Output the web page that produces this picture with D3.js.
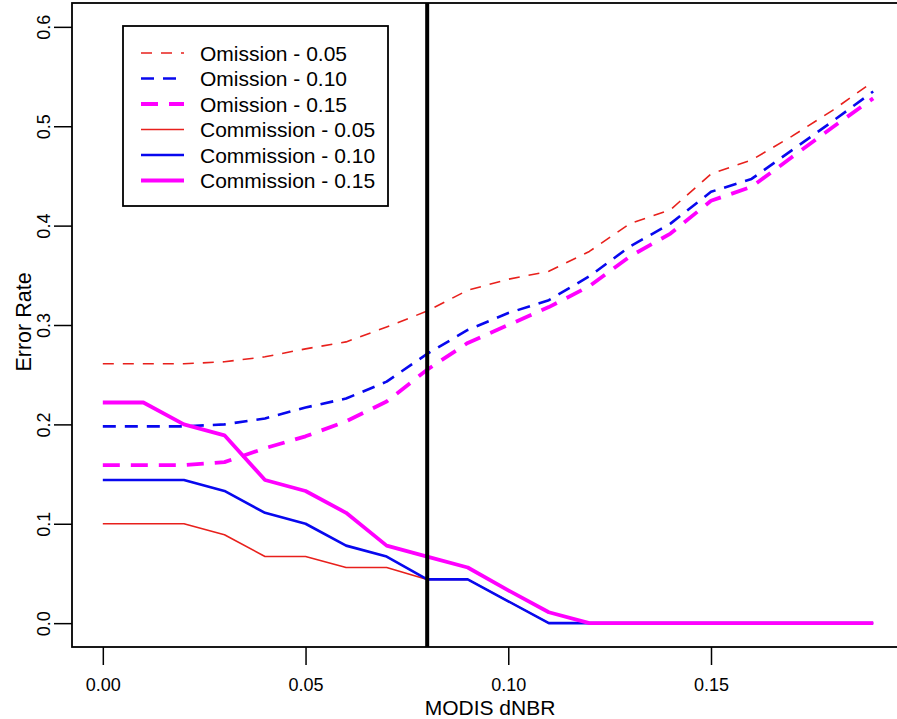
<!DOCTYPE html>
<meta charset="utf-8">
<title>Error rate vs MODIS dNBR</title>
<style>
  body { margin: 0; background: #fff; }
  text { font-family: "Liberation Sans", Arial, Helvetica, sans-serif; fill: #000; }
  .axis line { stroke: #000; stroke-width: 1.5px; }
  .axis path { display: none; }
</style>
<body>
<script src="https://cdn.jsdelivr.net/npm/d3@7"></script>
<script>

var width = 897,
    height = 719;

// thresholds on the x axis
var dnbr = [0.00, 0.01, 0.02, 0.03, 0.04, 0.05, 0.06, 0.07, 0.08, 0.09,
            0.10, 0.11, 0.12, 0.13, 0.14, 0.15, 0.16, 0.17, 0.18, 0.19];

var omission05 = [0.261, 0.261, 0.261, 0.263, 0.268, 0.276, 0.283, 0.298, 0.314, 0.335,
                  0.346, 0.354, 0.374, 0.402, 0.416, 0.452, 0.466, 0.490, 0.516, 0.545];
var omission10 = [0.198, 0.198, 0.198, 0.200, 0.206, 0.217, 0.226, 0.243, 0.271, 0.295,
                  0.312, 0.325, 0.349, 0.379, 0.402, 0.434, 0.447, 0.476, 0.505, 0.535];
var omission15 = [0.159, 0.159, 0.159, 0.162, 0.176, 0.188, 0.203, 0.223, 0.255, 0.282,
                  0.300, 0.318, 0.339, 0.369, 0.392, 0.425, 0.439, 0.469, 0.499, 0.528];
var commission05 = [0.100, 0.100, 0.100, 0.089, 0.067, 0.067, 0.056, 0.056, 0.044, 0.044,
                    0.022, 0, 0, 0, 0, 0, 0, 0, 0, 0];
var commission10 = [0.144, 0.144, 0.144, 0.133, 0.111, 0.100, 0.078, 0.067, 0.044, 0.044,
                    0.022, 0, 0, 0, 0, 0, 0, 0, 0, 0];
var commission15 = [0.222, 0.222, 0.200, 0.189, 0.144, 0.133, 0.111, 0.078, 0.067, 0.056,
                    0.033, 0.011, 0, 0, 0, 0, 0, 0, 0, 0];

var xTicks = [0, 0.05, 0.10, 0.15];
var yTicks = [0, 0.1, 0.2, 0.3, 0.4, 0.5, 0.6];
var cutoff = 0.08;

var series = [
  {name: "Omission - 0.05",   values: omission05,   color: "#e8201c", w: 1.6, dash: "11,9"},
  {name: "Omission - 0.10",   values: omission10,   color: "#0808ee", w: 2.6, dash: "13,9"},
  {name: "Omission - 0.15",   values: omission15,   color: "#ff00ff", w: 3.8, dash: "17,11"},
  {name: "Commission - 0.05", values: commission05, color: "#e8201c", w: 1.6, dash: null},
  {name: "Commission - 0.10", values: commission10, color: "#0808ee", w: 2.6, dash: null},
  {name: "Commission - 0.15", values: commission15, color: "#ff00ff", w: 3.8, dash: null}
];

// R style: limits padded by 4%
var x = d3.scaleLinear().domain([-0.0076, 0.1976]).range([72, 904]);
var y = d3.scaleLinear().domain([-0.024, 0.624]).range([647, 3]);

var svg = d3.select("body").append("svg")
    .attr("width", width)
    .attr("height", height);

var line = d3.line()
    .x(function(d, i) { return x(dnbr[i]); })
    .y(function(d) { return y(d); });

series.forEach(function(s) {
  svg.append("path")
    .datum(s.values)
    .attr("d", line)
    .attr("fill", "none")
    .attr("stroke", s.color)
    .attr("stroke-width", s.w)
    .attr("stroke-dasharray", s.dash)
    .attr("stroke-linejoin", "round");
});

// cutoff line
svg.append("line")
  .attr("x1", x(cutoff)).attr("x2", x(cutoff))
  .attr("y1", y.range()[0]).attr("y2", y.range()[1])
  .attr("stroke", "#000")
  .attr("stroke-width", 4);

// plot box
svg.append("rect")
  .attr("x", 72).attr("y", 3)
  .attr("width", 832).attr("height", 644)
  .attr("fill", "none")
  .attr("stroke", "#000")
  .attr("stroke-width", 1.8);

// axes
var xAxis = svg.append("g")
  .attr("class", "axis")
  .attr("transform", "translate(0,647)")
  .call(d3.axisBottom(x).tickValues(xTicks).tickSize(18).tickFormat(d3.format(".2f")));
xAxis.selectAll("text")
  .attr("y", 43.5).attr("dy", 0)
  .style("font-size", "18px");

var yAxis = svg.append("g")
  .attr("class", "axis")
  .attr("transform", "translate(72,0)")
  .call(d3.axisLeft(y).tickValues(yTicks).tickSize(18).tickFormat(d3.format(".1f")));
yAxis.selectAll("text")
  .attr("transform", "rotate(-90)")
  .attr("x", 0).attr("y", -22).attr("dy", 0)
  .attr("text-anchor", "middle")
  .style("font-size", "18px");

svg.append("text")
  .attr("x", 490).attr("y", 714.5)
  .attr("text-anchor", "middle")
  .style("font-size", "21px")
  .text("MODIS dNBR");

svg.append("text")
  .attr("transform", "translate(31,322) rotate(-90)")
  .attr("text-anchor", "middle")
  .style("font-size", "21.5px")
  .text("Error Rate");

// legend
var legend = svg.append("g");
legend.append("rect")
  .attr("x", 123).attr("y", 26)
  .attr("width", 265).attr("height", 180)
  .attr("fill", "#fff")
  .attr("stroke", "#000")
  .attr("stroke-width", 1.8);

var rows = legend.selectAll(".row")
  .data(series)
  .enter().append("g")
  .attr("class", "row")
  .attr("transform", function(d, i) { return "translate(0," + (53 + i * 25.5) + ")"; });

rows.append("line")
  .attr("x1", 141).attr("x2", 184)
  .attr("stroke", function(d) { return d.color; })
  .attr("stroke-width", function(d) { return d.w; })
  .attr("stroke-dasharray", function(d) { return d.dash; });

rows.append("text")
  .attr("x", 200).attr("y", 7.5)
  .style("font-size", "21px")
  .text(function(d) { return d.name; });

</script>
</body>
